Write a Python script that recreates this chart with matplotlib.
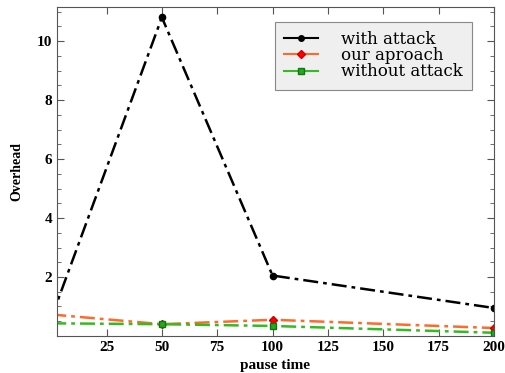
import matplotlib
matplotlib.use("Agg")
import matplotlib.pyplot as plt
from matplotlib.ticker import MultipleLocator
from matplotlib.lines import Line2D

pause = [0, 50, 100, 200]
with_attack = [0.6, 10.8, 2.05, 0.95]
our_approach = [0.73, 0.40, 0.55, 0.27]
without_attack = [0.43, 0.40, 0.34, 0.11]
labels = ['with attack', 'our aproach', 'without attack']

plt.rcParams['font.family'] = ['Liberation Serif', 'DejaVu Serif']

fig = plt.figure(figsize=(5.06, 3.73), dpi=100)
ax = fig.add_axes([0.1126, 0.0992, 0.8634, 0.8818])

dash = (6, 2, 1.5, 2)
styles = [
    dict(color='black', marker='o', markersize=4.5, markerfacecolor='black', markeredgecolor='black'),
    dict(color='#ff6a2a', marker='D', markersize=4.5, markerfacecolor='red', markeredgecolor='#cc0000'),
    dict(color='#33bb22', marker='s', markersize=4.5, markerfacecolor='#22aa22', markeredgecolor='#117711'),
]
for ys, st, lab in zip([with_attack, our_approach, without_attack], styles, labels):
    ax.plot(pause, ys, linestyle='-.', linewidth=1.8, dashes=dash, label=lab, **st)

ax.set_xlim(2.6, 200)
ax.set_ylim(0, 11.15)
ax.set_xticks([25, 50, 75, 100, 125, 150, 175, 200])
ax.set_yticks([2, 4, 6, 8, 10])
ax.yaxis.set_minor_locator(MultipleLocator(0.5))
ax.tick_params(direction='in', top=True, right=True, labelsize=11, length=5, color='#555555')
ax.tick_params(which='minor', direction='in', right=True, length=3, color='#555555')
for lab in ax.get_xticklabels() + ax.get_yticklabels():
    lab.set_fontweight('bold')
for s in ax.spines.values():
    s.set_color('#555555')

ax.set_xlabel('pause time', fontweight='bold', fontsize=11)
ax.set_ylabel('Overhead', fontweight='bold', fontsize=10)
ax.yaxis.set_label_coords(-0.078, 0.5)

handles = [Line2D([], [], linestyle='-', linewidth=1.5, **dict(st, markersize=4)) for st in styles]
leg = ax.legend(handles, labels, loc='upper right', bbox_to_anchor=(0.95, 0.955),
                prop={'family': 'DejaVu Serif', 'size': 12},
                fancybox=False, framealpha=1, facecolor='#efefef', edgecolor='#888888',
                handlelength=2.0, borderpad=0.55, labelspacing=-0.05, handletextpad=1.4,
                borderaxespad=0)
leg.get_frame().set_linewidth(0.8)

fig.savefig('out.png', dpi=100)
